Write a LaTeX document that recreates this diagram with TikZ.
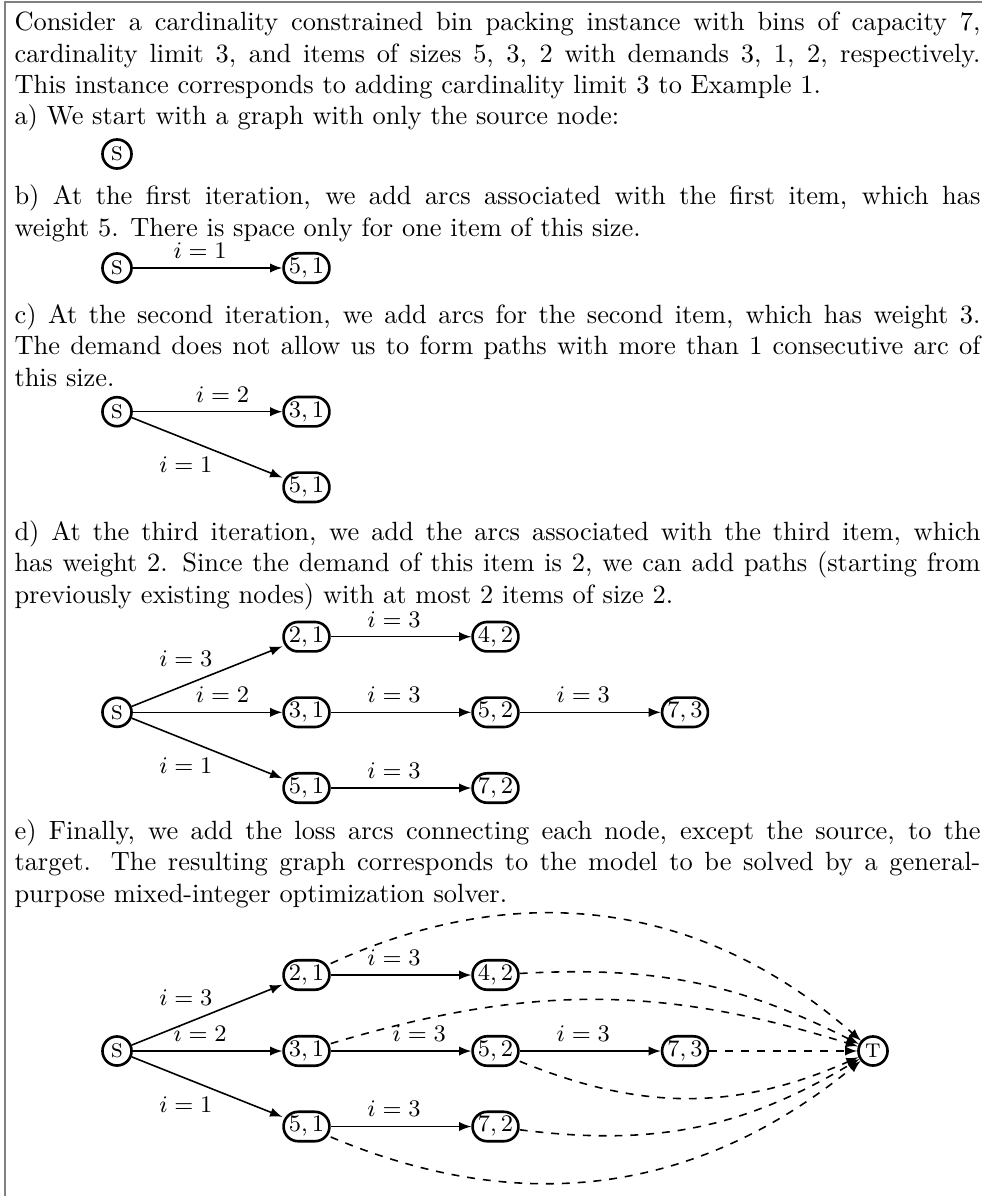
\documentclass[tikz,border=0pt]{standalone}
\usepackage{amsmath}
\usepackage{amssymb}
\usepackage{tikz}
\usetikzlibrary{arrows,shapes,positioning}

\begin{document}
\begin{tikzpicture}[x=0.3788pt, y=-0.3788pt, font=\small, >=latex,
  para/.style={anchor=base west, text width=365.9pt, align=justify, inner sep=0pt, font=\normalsize},
  endnode/.style={circle, draw, line width=1pt, minimum size=11pt, inner sep=0pt, font=\normalsize\scshape},
  binnode/.style={rectangle, draw, rounded corners=5.5pt, line width=1pt, inner xsep=2pt, inner ysep=1.8pt},
  arc/.style={->, line width=0.6pt},
  loss/.style={->, dashed, line width=0.6pt},
  lbl/.style={above, pos=0.45}]
\useasboundingbox (0,0) rectangle (982,1196);
\draw [gray, line width=0.9pt] (5,1196) -- (5,2) -- (982,2);

\node (intro) [para] at (14,30.5) {Consider a cardinality constrained bin packing instance with bins of capacity 7,\linebreak cardinality limit 3, and items of sizes 5, 3, 2 with demands 3, 1, 2, respectively.\linebreak This instance corresponds to adding cardinality limit 3 to Example 1.};

\node (txta) [para] at (14,124.4) {a) We start with a graph with only the source node:};
\node (sa) [endnode] at (117,154) {s};

\node (txtb) [para] at (14,205) {b) At the first iteration, we add arcs associated with the first item, which has\linebreak weight 5. There is space only for one item of this size.};
\node (sb) [endnode] at (117,268) {s};
\node (b51) [binnode] at (306.5,268) {$5,1$};
\draw [arc] (sb) -- node[lbl] {$i=1$} (b51);

\node (txtc) [para] at (14,323) {c) At the second iteration, we add arcs for the second item, which has weight 3.\linebreak The demand does not allow us to form paths with more than 1 consecutive arc of\linebreak this size.};
\node (sc) [endnode] at (117,411.7) {s};
\node (c31) [binnode] at (306.5,411.7) {$3,1$};
\node (c51) [binnode] at (306.5,487.3) {$5,1$};
\draw [arc] (sc) -- node[lbl, pos=0.6] {$i=2$} (c31);
\draw [arc] (sc) -- node[below, xshift=-8pt] {$i=1$} (c51);

\node (txtd) [para] at (14,540) {d) At the third iteration, we add the arcs associated with the third item, which\linebreak has weight 2. Since the demand of this item is 2, we can add paths (starting from\linebreak previously existing nodes) with at most 2 items of size 2.};
\node (sd) [endnode] at (117,712.3) {s};
\node (d21) [binnode] at (306.5,636.7) {$2,1$};
\node (d31) [binnode] at (306.5,712.3) {$3,1$};
\node (d51) [binnode] at (306.5,788) {$5,1$};
\node (d42) [binnode] at (495.5,636.7) {$4,2$};
\node (d52) [binnode] at (495.5,712.3) {$5,2$};
\node (d72) [binnode] at (495.5,788) {$7,2$};
\node (d73) [binnode] at (685,712.3) {$7,3$};
\draw [arc] (sd) -- node[above, xshift=-8pt] {$i=3$} (d21);
\draw [arc] (sd) -- node[lbl, pos=0.6] {$i=2$} (d31);
\draw [arc] (sd) -- node[below, xshift=-8pt] {$i=1$} (d51);
\draw [arc] (d21) -- node[lbl] {$i=3$} (d42);
\draw [arc] (d31) -- node[lbl] {$i=3$} (d52);
\draw [arc] (d52) -- node[lbl] {$i=3$} (d73);
\draw [arc] (d51) -- node[lbl] {$i=3$} (d72);

\node (txte) [para] at (14,839.1) {e) Finally, we add the loss arcs connecting each node, except the source, to the\linebreak target. The resulting graph corresponds to the model to be solved by a general-\linebreak purpose mixed-integer optimization solver.};
\node (se) [endnode] at (117,1051) {s};
\node (e21) [binnode] at (306.5,975) {$2,1$};
\node (e31) [binnode] at (306.5,1051) {$3,1$};
\node (e51) [binnode] at (306.5,1126.5) {$5,1$};
\node (e42) [binnode] at (495.5,975) {$4,2$};
\node (e52) [binnode] at (495.5,1051) {$5,2$};
\node (e72) [binnode] at (495.5,1126.5) {$7,2$};
\node (e73) [binnode] at (685,1051) {$7,3$};
\node (te) [endnode] at (873,1051) {t};
\draw [arc] (se) -- node[above, xshift=-8pt] {$i=3$} (e21);
\draw [arc] (se) -- node[lbl] {$i=2$} (e31);
\draw [arc] (se) -- node[below, xshift=-8pt] {$i=1$} (e51);
\draw [arc] (e21) -- node[lbl] {$i=3$} (e42);
\draw [arc] (e31) -- node[lbl, pos=0.63] {$i=3$} (e52);
\draw [arc] (e52) -- node[lbl] {$i=3$} (e73);
\draw [arc] (e51) -- node[lbl] {$i=3$} (e72);
\draw [loss] (e21) to[bend left=33] (te);
\draw [loss] (e42) to[bend left=15] (te);
\draw [loss] (e31) to[bend left=17] (te);
\draw [loss] (e73) -- (te);
\draw [loss] (e52) to[bend right=23] (te);
\draw [loss] (e72) to[bend right=19] (te);
\draw [loss] (e51) to[bend right=31] (te);
\end{tikzpicture}
\end{document}
